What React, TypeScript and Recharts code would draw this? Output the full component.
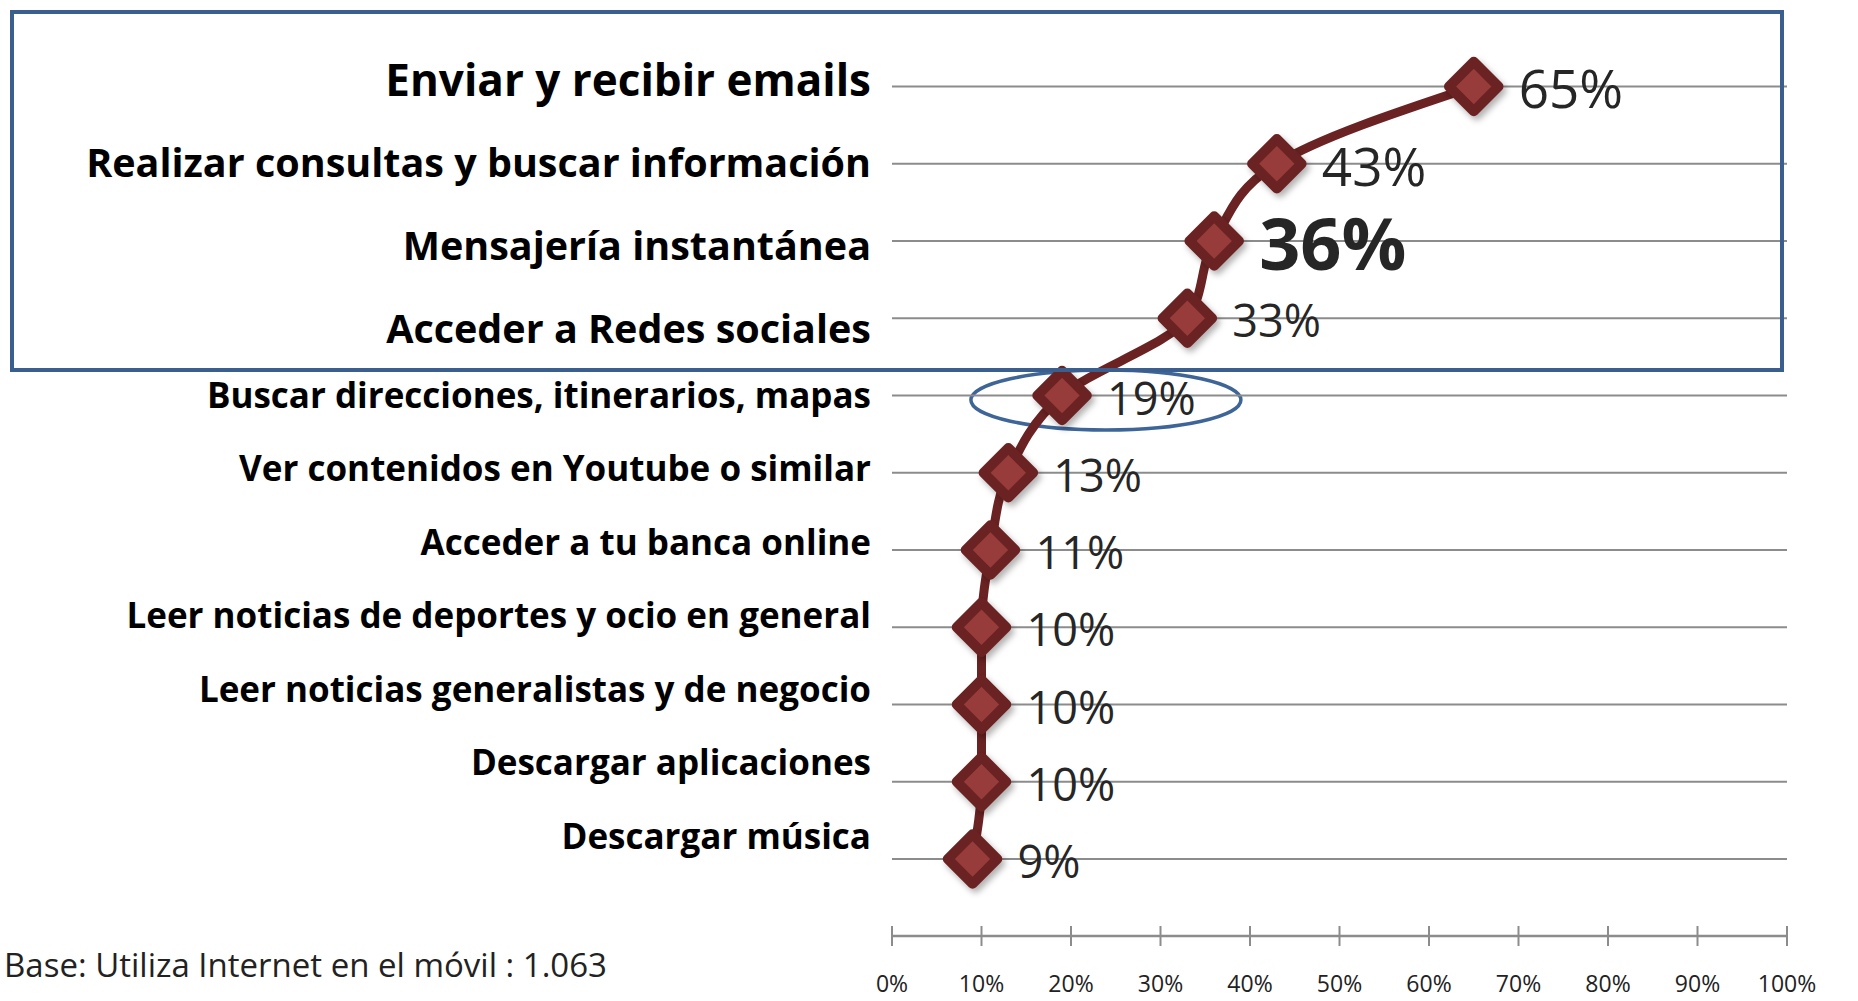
import { LineChart, Line, XAxis, YAxis, CartesianGrid, LabelList } from 'recharts';

const categories = [
  'Enviar y recibir emails',
  'Realizar consultas y buscar información',
  'Mensajería instantánea',
  'Acceder a Redes sociales',
  'Buscar direcciones, itinerarios, mapas',
  'Ver contenidos en Youtube o similar',
  'Acceder a tu banca online',
  'Leer noticias de deportes y ocio en general',
  'Leer noticias generalistas y de negocio',
  'Descargar aplicaciones',
  'Descargar música',
];
const values = [65, 43, 36, 33, 19, 13, 11, 10, 10, 10, 9];
const xTicks = [0, 10, 20, 30, 40, 50, 60, 70, 80, 90, 100];
const footnote = 'Base: Utiliza Internet en el móvil : 1.063';

const data = categories.map((name, i) => ({ name, value: values[i] }));

const W = 1858;
const H = 1001;
const PLOT_LEFT = 892;
const PLOT_RIGHT = 1787;
const FONT = '"Open Sans", "Noto Sans", sans-serif';
const GRID = '#8c8c8c';
const DARK_RED = '#6a2222';
const RED = '#973b3b';

// first row is the largest, the rest of the boxed group a bit smaller
const CategoryTick = ({ x, y, payload }: any) => {
  const i = categories.indexOf(payload.value);
  const big = i < 4;
  const fs = i === 0 ? 44 : big ? 39.5 : 35;
  const shift = big ? -6 + i * 5.4 : -(i - 4) * 3.75;
  return (
    <text x={x - 21} y={y + shift + fs * 0.357} textAnchor="end" fontSize={fs} fontWeight={700} fill="#000" fontFamily={FONT}>
      {payload.value}
    </text>
  );
};

const PercentTick = ({ x, y, payload }: any) => (
  <g>
    <line x1={x} x2={x} y1={y - 10} y2={y + 10} stroke={GRID} strokeWidth={2} />
    <text x={x} y={y + 56} textAnchor="middle" fontSize={23} fill="#222" fontFamily={FONT}>
      {payload.value}%
    </text>
  </g>
);

const Diamond = ({ cx, cy }: any) => (
  <g filter="url(#dropShadow)">
    <rect
      x={cx - 17.5}
      y={cy - 17.5}
      width={35}
      height={35}
      transform={`rotate(45 ${cx} ${cy})`}
      fill={RED}
      stroke={DARK_RED}
      strokeWidth={10}
      strokeLinejoin="round"
    />
  </g>
);

const ValueLabel = ({ x, y, value, index }: any) => {
  const bold = index === 2;
  const fs = bold ? 72 : index < 2 ? 53 : 45;
  return (
    <text x={x + 45} y={y + 3 + fs * 0.357} fontSize={fs} fontWeight={bold ? 700 : 400} fill="#262626" fontFamily={FONT}>
      {value}%
    </text>
  );
};

export default function App() {
  const ellipseX = PLOT_LEFT + 0.239 * (PLOT_RIGHT - PLOT_LEFT);
  return (
    <div style={{ position: 'absolute', left: 0, top: 0, width: W, height: H, background: '#fff', fontFamily: FONT }}>
      <svg width={W} height={H} style={{ position: 'absolute', left: 0, top: 0 }}>
        <ellipse cx={ellipseX} cy={400} rx={135} ry={30} fill="none" stroke="#3e6598" strokeWidth={3.5} />
      </svg>
      <div style={{ position: 'absolute', left: 0, top: 0 }}>
        <LineChart width={W} height={H} data={data} layout="vertical" margin={{ top: 0, right: W - PLOT_RIGHT, bottom: 0, left: 0 }}>
          <defs>
            <filter id="dropShadow" x="-50%" y="-50%" width="200%" height="200%">
              <feDropShadow dx={3} dy={4} stdDeviation={3} floodColor="#000" floodOpacity={0.3} />
            </filter>
          </defs>
          <CartesianGrid vertical={false} stroke={GRID} strokeWidth={2} syncWithTicks />
          <XAxis
            type="number"
            domain={[0, 100]}
            ticks={xTicks}
            interval={0}
            height={65}
            tickSize={0}
            tickMargin={0}
            axisLine={{ stroke: GRID, strokeWidth: 2.5 }}
            tick={<PercentTick />}
          />
          <YAxis
            type="category"
            dataKey="name"
            width={PLOT_LEFT}
            padding={{ top: 86.5, bottom: 77 }}
            axisLine={false}
            tickLine={false}
            tickSize={0}
            tickMargin={0}
            interval={0}
            tick={<CategoryTick />}
          />
          <Line
            type="monotone"
            dataKey="value"
            stroke={DARK_RED}
            strokeWidth={9}
            dot={<Diamond />}
            activeDot={false}
            isAnimationActive={false}
          >
            <LabelList dataKey="value" content={<ValueLabel />} />
          </Line>
        </LineChart>
      </div>
      <svg width={W} height={H} style={{ position: 'absolute', left: 0, top: 0, pointerEvents: 'none' }}>
        <rect x={12} y={12} width={1770} height={358} fill="none" stroke="#3a5f8e" strokeWidth={4} />
        <text x={4} y={977} fontSize={33} fill="#222" fontFamily={FONT}>
          {footnote}
        </text>
      </svg>
    </div>
  );
}
